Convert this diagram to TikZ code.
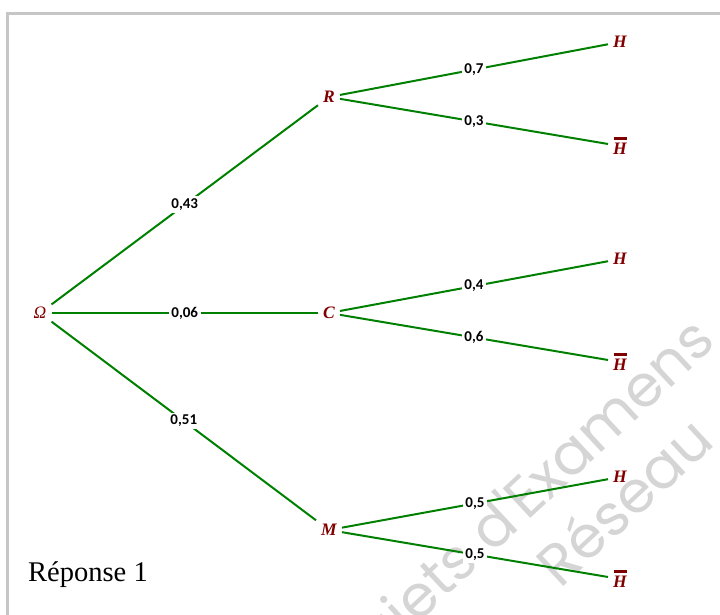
\documentclass[tikz,border=0pt]{standalone}
\usepackage{fontspec}
\setmainfont{Liberation Serif}
\newfontfamily\lblfont{Carlito}
\newfontfamily\wmfont{Poppins}
\usetikzlibrary{positioning}
\definecolor{evtred}{RGB}{128,0,0}
\definecolor{brgreen}{RGB}{0,128,0}
\newcommand{\barH}{\ooalign{\hfil\rule[15pt]{13pt}{2.2pt}\hfil\cr\hfil H\hfil}}
\tikzset{
  evt/.style={text=evtred,font=\fontsize{17.5}{17.5}\selectfont\bfseries\itshape,inner sep=5pt},
  branch/.style={draw=brgreen,line width=2pt},
  prob/.style={fill=white,font=\lblfont\fontsize{15}{15}\selectfont\bfseries,inner sep=2.5pt},
  wmark/.style={text=gray!33,font=\wmfont\fontsize{58}{58}\selectfont,rotate=43,inner sep=0pt}
}

\begin{document}
\begin{tikzpicture}[x=1pt,y=-1pt]
\clip (0,0) rectangle (720,615);
\draw[gray!45,line width=2.5pt] (7.5,640) -- (7.5,13.5) -- (730,13.5);

% watermark
\node[wmark,anchor=base east] (wm1) at (718,344) {Sujets d'Examens};
\node[wmark,anchor=base west] (wm2) at (560,590) {Réseau};

\node (ans) at (88,575) {\fontsize{28.5}{28.5}\selectfont Réponse 1};

% first level
\node[evt,font=\fontsize{17.5}{17.5}\selectfont\itshape] (O) at (40,313) {Ω};
\node[evt] (R) at (329,97) {R};
\node[evt] (C) at (329,313) {C};
\node[evt] (M) at (329,530) {M};

% second level
\node[evt] (RH) at (620,42) {H};
\node[evt] (RHb) at (620,146) {\barH};
\node[evt] (CH) at (620,259) {H};
\node[evt] (CHb) at (620,362) {\barH};
\node[evt] (MH) at (620,477) {H};
\node[evt] (MHb) at (620,579) {\barH};

\draw[branch] (O) -- node[prob] {0,43} (R);
\draw[branch] (O) -- node[prob] {0,06} (C);
\draw[branch] (O) -- node[prob] {0,51} (M);

\draw[branch] (R) -- node[prob] {0,7} (RH);
\draw[branch] (R) -- node[prob] {0,3} (RHb);
\draw[branch] (C) -- node[prob] {0,4} (CH);
\draw[branch] (C) -- node[prob] {0,6} (CHb);
\draw[branch] (M) -- node[prob] {0,5} (MH);
\draw[branch] (M) -- node[prob] {0,5} (MHb);
\end{tikzpicture}
\end{document}
